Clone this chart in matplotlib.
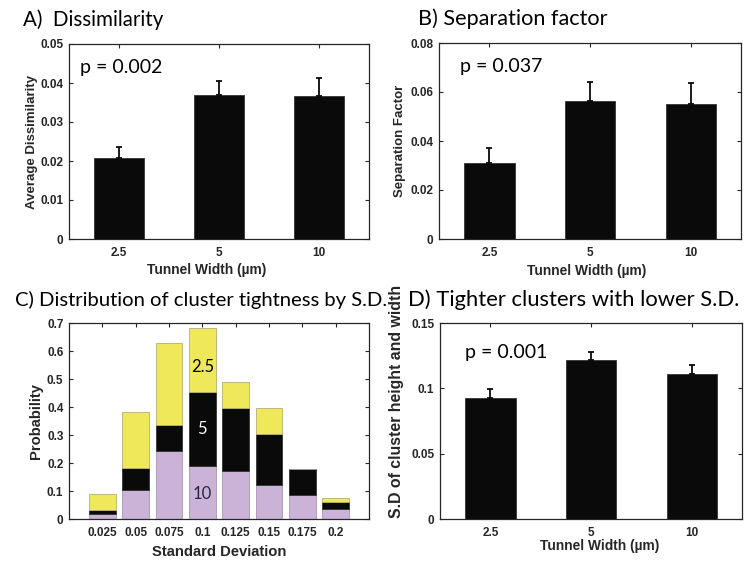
import matplotlib
matplotlib.use("Agg")
import matplotlib.pyplot as plt
import numpy as np

# ---- data ----
widths = ["2.5", "5", "10"]
dissim = [0.0208, 0.0368, 0.0367]
dissim_err = [0.0028, 0.0037, 0.0047]
sepfac = [0.031, 0.0563, 0.0551]
sepfac_err = [0.006, 0.0077, 0.0086]
sd_hw = [0.0926, 0.122, 0.111]
sd_hw_err = [0.0066, 0.0056, 0.0066]

sd_bins = [0.025, 0.05, 0.075, 0.1, 0.125, 0.15, 0.175, 0.2]
sd_bin_labels = ["0.025", "0.05", "0.075", "0.1", "0.125", "0.15", "0.175", "0.2"]
prob_10 = [0.017, 0.104, 0.243, 0.191, 0.173, 0.122, 0.085, 0.035]
prob_5 = [0.014, 0.078, 0.091, 0.261, 0.224, 0.183, 0.095, 0.026]
prob_25 = [0.060, 0.201, 0.293, 0.231, 0.091, 0.092, 0.0, 0.014]

AXC = "#262626"
YELLOW = "#EEE85A"
PURPLE = "#CAB3D6"
BLACK = "#0a0a0a"
TITLE_FONT = "Lato"
TICK_FONT = "Liberation Sans"

fig = plt.figure(figsize=(7.49, 5.61), dpi=100)


def style_axes(ax):
    for s in ax.spines.values():
        s.set_color(AXC)
        s.set_linewidth(0.9)
    ax.tick_params(direction="in", top=True, right=True, length=3, width=0.8,
                   color=AXC, labelcolor=AXC, labelsize=8.5)
    ax.tick_params(axis="x", pad=6)
    ax.tick_params(axis="y", pad=4)
    for lab in ax.get_xticklabels() + ax.get_yticklabels():
        lab.set_fontfamily(TICK_FONT)
        lab.set_fontweight("bold")


def bar_panel(rect, vals, errs, ylim, yticks, yticklabels, ylabel, ptext, ptxy,
              ylabel_xy, xlabel_xy, ylabel_size=9.5):
    ax = fig.add_axes(rect)
    x = np.arange(1, len(widths) + 1)
    ax.bar(x, vals, width=0.5, color=BLACK, edgecolor="#333333", linewidth=0.6, zorder=2)
    ax.errorbar(x, vals, yerr=[np.zeros(len(errs)), errs], fmt="none", ecolor=BLACK,
                elinewidth=1.3, capsize=2.2, capthick=1.3, zorder=3)
    ax.set_xlim(0.5, 3.5)
    ax.set_ylim(*ylim)
    ax.set_xticks(x)
    ax.set_xticklabels(widths)
    ax.set_yticks(yticks)
    ax.set_yticklabels(yticklabels)
    style_axes(ax)
    ax.set_ylabel(ylabel, fontfamily=TICK_FONT, fontweight="bold", fontsize=ylabel_size, color=AXC)
    ax.set_xlabel("Tunnel Width (\u00b5m)", fontfamily=TICK_FONT, fontweight="bold",
                  fontsize=9.9, color=AXC)
    ax.yaxis.set_label_coords(*ylabel_xy)
    ax.xaxis.set_label_coords(*xlabel_xy)
    ax.text(ptxy[0], ptxy[1], ptext, transform=ax.transAxes, fontfamily=TITLE_FONT,
            fontsize=14, va="center", ha="left", color="black")
    return ax


# A
bar_panel([69 / 749, 322 / 561, 300 / 749, 195 / 561], dissim, dissim_err,
          (0, 0.05), [0, 0.01, 0.02, 0.03, 0.04, 0.05],
          ["0", "0.01", "0.02", "0.03", "0.04", "0.05"],
          "Average Dissimilarity", "p = 0.002", (0.037, 0.877),
          (-0.105, 0.5), (0.46, -0.125))
# B
bar_panel([439 / 749, 322 / 561, 302 / 749, 196 / 561], sepfac, sepfac_err,
          (0, 0.08), [0, 0.02, 0.04, 0.06, 0.08],
          ["0", "0.02", "0.04", "0.06", "0.08"],
          "Separation Factor", "p = 0.037", (0.07, 0.882),
          (-0.11, 0.5), (0.49, -0.125))
# D
bar_panel([440 / 749, 42 / 561, 302 / 749, 196 / 561], sd_hw, sd_hw_err,
          (0, 0.15), [0, 0.05, 0.1, 0.15],
          ["0", "0.05", "0.1", "0.15"],
          "S.D of cluster height and width", "p = 0.001", (0.083, 0.852),
          (-0.118, 0.6), (0.53, -0.10), ylabel_size=11.4)

# C
axc = fig.add_axes([69 / 749, 42 / 561, 300 / 749, 196 / 561])
b10 = np.array(prob_10)
b5 = np.array(prob_5)
b25 = np.array(prob_25)
axc.bar(sd_bins, b10, width=0.02, color=PURPLE, edgecolor="#a994b5", linewidth=0.6, zorder=2)
axc.bar(sd_bins, b5, width=0.02, bottom=b10, color=BLACK, edgecolor="#333333", linewidth=0.6, zorder=2)
axc.bar(sd_bins, b25, width=0.02, bottom=b10 + b5, color=YELLOW, edgecolor="#b5b070",
        linewidth=0.6, zorder=2)
axc.set_xlim(0, 0.225)
axc.set_ylim(0, 0.7)
axc.set_xticks(sd_bins)
axc.set_xticklabels(sd_bin_labels)
axc.set_yticks([0, 0.1, 0.2, 0.3, 0.4, 0.5, 0.6, 0.7])
axc.set_yticklabels(["0", "0.1", "0.2", "0.3", "0.4", "0.5", "0.6", "0.7"])
style_axes(axc)
axc.set_ylabel("Probability", fontfamily=TICK_FONT, fontweight="bold", fontsize=10.6, color=AXC)
axc.set_xlabel("Standard Deviation", fontfamily=TICK_FONT, fontweight="bold", fontsize=10.6, color=AXC)
axc.yaxis.set_label_coords(-0.086, 0.5)
axc.xaxis.set_label_coords(0.5, -0.135)
axc.text(0.1, 0.543, "2.5", fontfamily=TITLE_FONT, fontsize=12, ha="center", va="center", color="black", zorder=4)
axc.text(0.1, 0.322, "5", fontfamily=TITLE_FONT, fontsize=12, ha="center", va="center", color="white", zorder=4)
axc.text(0.1, 0.091, "10", fontfamily=TITLE_FONT, fontsize=12, ha="center", va="center", color="#2b2540", zorder=4)

# panel titles
fig.text(23 / 749, 1 - 20 / 561, "A)  Dissimilarity", fontfamily=TITLE_FONT, fontsize=14.8, va="center", ha="left")
fig.text(418 / 749, 1 - 19 / 561, "B) Separation factor", fontfamily=TITLE_FONT, fontsize=15.6, va="center", ha="left")
fig.text(15 / 749, 1 - 300 / 561, "C) Distribution of cluster tightness by S.D.", fontfamily=TITLE_FONT,
         fontsize=14.6, va="center", ha="left")
fig.text(408 / 749, 1 - 300 / 561, "D) Tighter clusters with lower S.D.", fontfamily=TITLE_FONT,
         fontsize=15.8, va="center", ha="left")

fig.savefig("out.png", dpi=100)
